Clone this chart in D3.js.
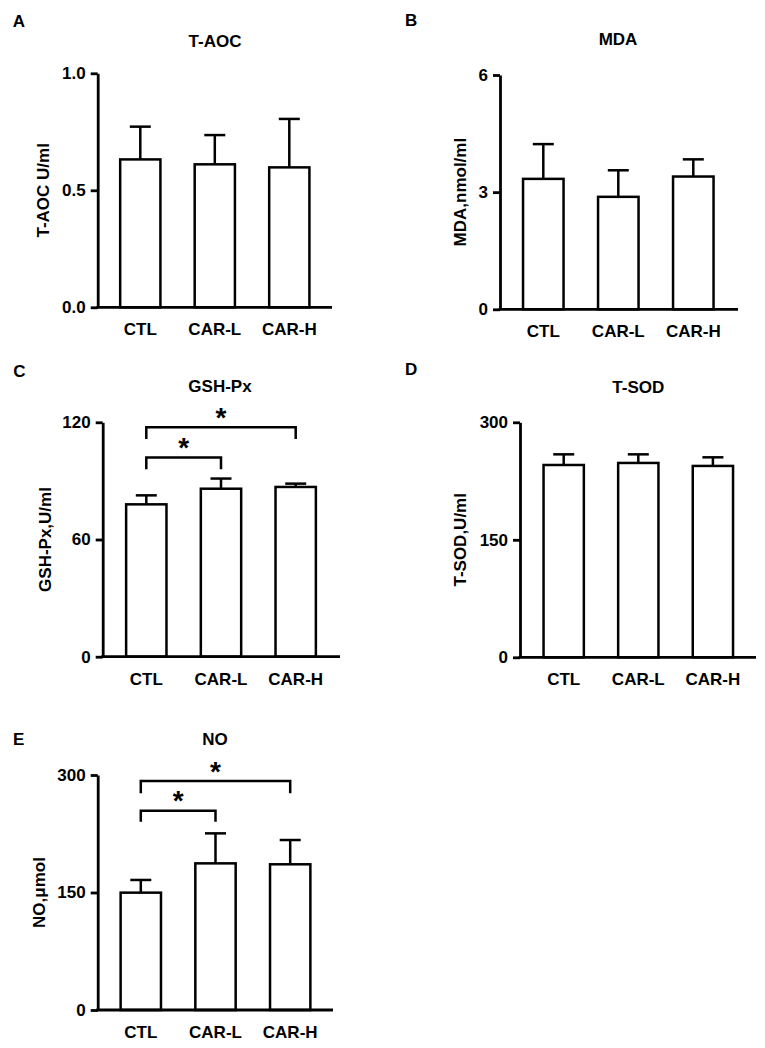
<!DOCTYPE html>
<html>
<head>
<meta charset="utf-8">
<script src="https://cdn.jsdelivr.net/npm/d3@7"></script>
<style>
  html, body { margin: 0; padding: 0; background: #fff; }
  svg text { font-family: "Liberation Sans", Arial, sans-serif; font-weight: bold; fill: #000; }
</style>
</head>
<body>
<svg id="chart" width="765" height="1048"></svg>
<script>
// ---------------- data ----------------
const groups = ["CTL", "CAR-L", "CAR-H"];

const taocMean = [0.632, 0.611, 0.598];
const taocSD   = [0.140, 0.125, 0.207];
const taocTicks = [0, 0.5, 1.0];

const mdaMean = [3.34, 2.88, 3.40];
const mdaSD   = [0.89, 0.68, 0.44];
const mdaTicks = [0, 3, 6];

const gshMean = [78.0, 86.0, 86.9];
const gshSD   = [4.6, 5.2, 1.7];
const gshTicks = [0, 60, 120];

const sodMean = [245.5, 248.1, 244.3];
const sodSD   = [13.6, 11.0, 11.0];
const sodTicks = [0, 150, 300];

const noMean = [149.8, 187.2, 186.0];
const noSD   = [16.2, 38.3, 31.0];
const noTicks = [0, 150, 300];

// significance comparisons
const gshSig = [["CTL", "CAR-L", "*"], ["CTL", "CAR-H", "*"]];
const noSig  = [["CTL", "CAR-L", "*"], ["CTL", "CAR-H", "*"]];

// ---------------- layout ----------------
const panels = [
  { letter: "A", title: "T-AOC", ylabel: "T-AOC U/ml", mean: taocMean, sd: taocSD, ticks: taocTicks, fmt: d3.format(".1f"),
    x0: 97.7, xEnd: 332, yTop: 73.3, yZero: 307.3, c1: 140.3, step: 74.5,
    lx: 12.7, ly: 26.7, tx: 215, ty: 46.5, ylx: 43, sig: [], sigLevels: [] },
  { letter: "B", title: "MDA", ylabel: "MDA,nmol/ml", mean: mdaMean, sd: mdaSD, ticks: mdaTicks, fmt: d3.format("d"),
    x0: 500, xEnd: 738, yTop: 75, yZero: 309.3, c1: 543.3, step: 75,
    lx: 405, ly: 26, tx: 618, ty: 45, ylx: 460, sig: [], sigLevels: [] },
  { letter: "C", title: "GSH-Px", ylabel: "GSH-Px,U/ml", mean: gshMean, sd: gshSD, ticks: gshTicks, fmt: d3.format("d"),
    x0: 102.7, xEnd: 340, yTop: 422.3, yZero: 656.7, c1: 146.3, step: 74.7,
    lx: 13.3, ly: 376.7, tx: 220, ty: 391.7, ylx: 45, sig: gshSig,
    sigLevels: [{ bar: 102, leg: 96, star: 110.4 }, { bar: 117.5, leg: 111.5, star: 125.8 }] },
  { letter: "D", title: "T-SOD", ylabel: "T-SOD,U/ml", mean: sodMean, sd: sodSD, ticks: sodTicks, fmt: d3.format("d"),
    x0: 520, xEnd: 756, yTop: 422.3, yZero: 657.3, c1: 563.7, step: 74.6,
    lx: 405, ly: 375, tx: 638.3, ty: 392.7, ylx: 460, sig: [], sigLevels: [] },
  { letter: "E", title: "NO", ylabel: "NO,\u03bcmol", mean: noMean, sd: noSD, ticks: noTicks, fmt: d3.format("d"),
    x0: 97.7, xEnd: 333, yTop: 775, yZero: 1010, c1: 140.8, step: 74.7,
    lx: 13, ly: 745, tx: 215, ty: 745, ylx: 39.3, sig: noSig,
    sigLevels: [{ bar: 254.4, leg: 240.4, star: 275.4 }, { bar: 292.3, leg: 276.6, star: 312.8 }] }
];

const FS = 17;
const AXW = 2.8, BARW = 2.5;
const svg = d3.select("#chart");

panels.forEach(p => {
  const g = svg.append("g");
  const y = d3.scaleLinear().domain([p.ticks[0], p.ticks[p.ticks.length - 1]]).range([p.yZero, p.yTop]);
  const x = d3.scaleBand().domain(groups)
    .range([p.c1 - p.step / 2, p.c1 - p.step / 2 + p.step * groups.length])
    .paddingInner(0.46).paddingOuter(0.23);

  // panel letter
  g.append("text").attr("x", p.lx).attr("y", p.ly).attr("font-size", FS).text(p.letter);
  // title
  g.append("text").attr("x", p.tx).attr("y", p.ty).attr("font-size", FS).attr("text-anchor", "middle").text(p.title);

  // bars
  const data = groups.map((k, i) => ({ k, m: p.mean[i], s: p.sd[i] }));
  g.selectAll("rect.bar").data(data).join("rect")
    .attr("x", d => x(d.k)).attr("width", x.bandwidth())
    .attr("y", d => y(d.m)).attr("height", d => p.yZero - y(d.m))
    .attr("fill", "#fff").attr("stroke", "#000").attr("stroke-width", BARW);

  // error bars (upper only)
  const capW = 21;
  data.forEach(d => {
    const cx = x(d.k) + x.bandwidth() / 2;
    g.append("line").attr("x1", cx).attr("x2", cx).attr("y1", y(d.m)).attr("y2", y(d.m + d.s))
      .attr("stroke", "#000").attr("stroke-width", BARW);
    g.append("line").attr("x1", cx - capW / 2).attr("x2", cx + capW / 2).attr("y1", y(d.m + d.s)).attr("y2", y(d.m + d.s))
      .attr("stroke", "#000").attr("stroke-width", BARW);
  });

  // y axis
  const ya = g.append("g").attr("transform", `translate(${p.x0},0)`)
    .call(d3.axisLeft(y).tickValues(p.ticks).tickFormat(p.fmt).tickSize(7).tickPadding(5).tickSizeOuter(0));
  ya.select(".domain").attr("stroke-width", AXW);
  ya.selectAll(".tick line").attr("stroke-width", AXW);
  ya.selectAll(".tick text").attr("font-size", FS).attr("font-family", null);

  // x axis line
  g.append("line").attr("x1", p.x0 - AXW / 2).attr("x2", p.xEnd).attr("y1", p.yZero).attr("y2", p.yZero)
    .attr("stroke", "#000").attr("stroke-width", AXW);
  const xa = g.append("g").attr("transform", `translate(0,${p.yZero})`)
    .call(d3.axisBottom(x).tickSize(0).tickPadding(16));
  xa.select(".domain").remove();
  xa.selectAll(".tick text").attr("font-size", FS).attr("font-family", null);

  // y label
  const cy = (p.yTop + p.yZero) / 2;
  g.append("text").attr("transform", `translate(${p.ylx},${cy}) rotate(-90)`)
    .attr("dy", "0.35em").attr("text-anchor", "middle").attr("font-size", FS).text(p.ylabel);

  // significance brackets
  p.sig.forEach((s, i) => {
    const lv = p.sigLevels[i];
    const xa1 = x(s[0]) + x.bandwidth() / 2, xa2 = x(s[1]) + x.bandwidth() / 2;
    const yb = y(lv.bar), yl = y(lv.leg);
    g.append("path").attr("d", `M${xa1},${yl}V${yb}H${xa2}V${yl}`)
      .attr("fill", "none").attr("stroke", "#000").attr("stroke-width", BARW);
    g.append("text").attr("x", (xa1 + xa2) / 2).attr("y", y(lv.star) + 16)
      .attr("text-anchor", "middle").attr("font-size", 28).text(s[2]);
  });
});
</script>
</body>
</html>
